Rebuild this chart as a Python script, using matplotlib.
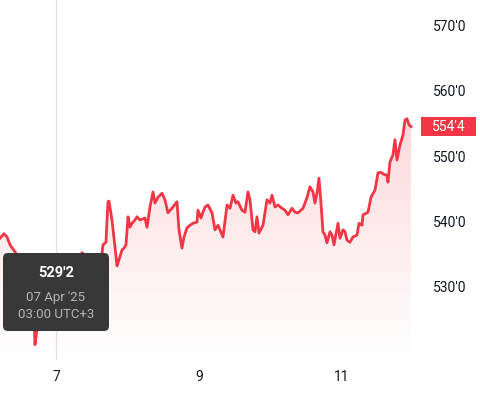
import numpy as np
import matplotlib
import matplotlib.pyplot as plt
from matplotlib.patches import FancyBboxPatch, PathPatch, Rectangle
from matplotlib.ticker import FuncFormatter

matplotlib.use("Agg")

# Data: day of April 2025 (UTC) and price in cents (shown in eighths)
days = [
    6.217, 6.273, 6.315, 6.357, 6.427, 6.524, 6.608, 6.678, 6.706, 6.734,
    6.776, 6.846, 6.916, 7.000, 7.084, 7.196, 7.308, 7.364, 7.448, 7.545,
    7.615, 7.643, 7.657, 7.699, 7.727, 7.741, 7.783, 7.825, 7.853, 7.881,
    7.923, 7.951, 7.979, 8.007, 8.035, 8.063, 8.105, 8.133, 8.175, 8.245,
    8.273, 8.315, 8.357, 8.385, 8.427, 8.483, 8.524, 8.566, 8.622, 8.692,
    8.720, 8.762, 8.790, 8.832, 8.874, 8.916, 8.972, 8.986, 9.028, 9.056,
    9.084, 9.126, 9.182, 9.224, 9.266, 9.336, 9.392, 9.434, 9.476, 9.517,
    9.545, 9.601, 9.643, 9.685, 9.713, 9.755, 9.783, 9.811, 9.839, 9.895,
    9.951, 9.993, 10.021, 10.063, 10.105, 10.161, 10.203, 10.245, 10.301, 10.343,
    10.385, 10.455, 10.510, 10.552, 10.594, 10.622, 10.650, 10.678, 10.706, 10.734,
    10.762, 10.790, 10.832, 10.860, 10.888, 10.944, 10.972, 11.014, 11.042, 11.070,
    11.112, 11.154, 11.210, 11.238, 11.280, 11.294, 11.350, 11.364, 11.406, 11.462,
    11.503, 11.545, 11.601, 11.629, 11.643, 11.671, 11.713, 11.741, 11.769, 11.811,
    11.853, 11.881, 11.909, 11.937, 11.965,
]
prices = [
    537.4, 538.1, 537.6, 536.4, 535.3, 533.8, 532.5, 531.0, 521.1, 523.4,
    527.9, 529.2, 529.8, 529.25, 531.0, 532.5, 533.5, 535.2, 534.3, 534.0,
    534.5, 535.0, 536.4, 536.8, 543.0, 543.1, 540.2, 536.1, 533.2, 534.1,
    535.6, 535.9, 536.4, 540.7, 539.1, 539.7, 540.2, 540.7, 540.2, 540.5,
    539.1, 542.2, 544.5, 542.8, 543.7, 544.3, 543.3, 541.3, 542.0, 543.0,
    538.7, 535.9, 537.6, 539.0, 539.4, 539.7, 539.9, 541.7, 540.5, 541.4,
    542.2, 542.5, 541.3, 538.7, 539.4, 537.6, 542.5, 542.0, 544.0, 542.8,
    543.0, 541.7, 541.4, 544.5, 543.3, 538.7, 538.4, 540.7, 538.2, 539.4,
    543.3, 542.8, 544.0, 542.2, 542.5, 542.0, 541.7, 541.0, 542.0, 541.4,
    541.3, 542.0, 543.6, 545.3, 544.5, 542.8, 544.3, 546.6, 542.8, 538.4,
    537.9, 536.7, 538.4, 537.9, 536.4, 539.7, 537.4, 538.7, 538.4, 537.1,
    536.8, 537.6, 537.9, 539.7, 539.4, 541.0, 541.3, 541.4, 543.7, 544.8,
    547.4, 547.5, 547.1, 547.1, 546.0, 549.1, 550.2, 552.5, 549.4, 551.7,
    553.2, 555.5, 555.7, 554.8, 554.5,
]
y_ticks = [530, 540, 550, 560, 570]
x_ticks = [7, 9, 11]
hover_day = 7.0
hover_date = "07 Apr '25"
hover_time = "03:00 UTC+3"

RED = "#f23645"
TEXT = "#131722"


def eighths(v, pos=None):
    whole = int(np.floor(v + 1e-9))
    frac = int(round((v - whole) * 8))
    return f"{whole}'{frac}"


plt.rcParams["font.family"] = ["Roboto", "DejaVu Sans"]

fig = plt.figure(figsize=(4.81, 4.03), dpi=100)
ax = fig.add_axes([0, 1 - 360 / 403, 416 / 481, 360 / 403])

x0, x1 = 6.217, 12.035
y0, y1 = 518.76, 573.9

# gradient fill under the line
poly = ax.fill_between(days, prices, y0, facecolor="none", edgecolor="none")
clip = PathPatch(poly.get_paths()[0], transform=ax.transData, fc="none", ec="none")
ax.add_patch(clip)
top = max(prices)
grad = np.zeros((256, 1, 4))
grad[:, 0, :3] = matplotlib.colors.to_rgb(RED)
grad[:, 0, 3] = np.linspace(0.19, 0.0, 256)
im = ax.imshow(grad, extent=[x0, x1, y0, top], origin="upper", aspect="auto", zorder=1)
im.set_clip_path(clip)

ax.axvline(hover_day, color="#e0e0e0", lw=0.9, zorder=1.5)
ax.plot(days, prices, color=RED, lw=2, zorder=2, solid_joinstyle="round")

ax.set_xlim(x0, x1)
ax.set_ylim(y0, y1)
for s in ax.spines.values():
    s.set_visible(False)
ax.set_xticks(x_ticks)
ax.set_xticklabels([str(d) for d in x_ticks])
ax.set_yticks(y_ticks)
ax.yaxis.set_major_formatter(FuncFormatter(eighths))
ax.yaxis.tick_right()
ax.tick_params(axis="y", length=0, pad=12, labelsize=10, labelcolor=TEXT)
ax.tick_params(axis="x", length=0, pad=7, labelsize=10, labelcolor=TEXT)
ax.set_facecolor("none")

# last price badge
last = prices[-1]
ax.add_patch(Rectangle((421 / 416, last - 1.5), 55 / 416, 3.0,
                       transform=ax.get_yaxis_transform(), fc=RED, ec="none",
                       clip_on=False))
ax.text(448.5 / 416, last, eighths(last), transform=ax.get_yaxis_transform(),
        color="white", fontsize=10, ha="center", va="center", clip_on=False)

# hover tooltip
hover_val = prices[days.index(hover_day)]
fig.patches.append(FancyBboxPatch((0.03, 0.72), 1.06, 0.78,
                                  boxstyle="round,pad=0,rounding_size=0.05",
                                  transform=fig.dpi_scale_trans, fc="#383838",
                                  ec="none", zorder=5))
fig.text(0.56, 1.30, eighths(hover_val), transform=fig.dpi_scale_trans, color="white",
         fontsize=10.5, fontweight="bold", ha="center", va="center", zorder=6)
fig.text(0.56, 1.06, hover_date, transform=fig.dpi_scale_trans, color="#b4b4b4",
         fontsize=9.5, ha="center", va="center", zorder=6)
fig.text(0.56, 0.89, hover_time, transform=fig.dpi_scale_trans, color="#b4b4b4",
         fontsize=9.5, ha="center", va="center", zorder=6)

fig.savefig("out.png", dpi=100)
